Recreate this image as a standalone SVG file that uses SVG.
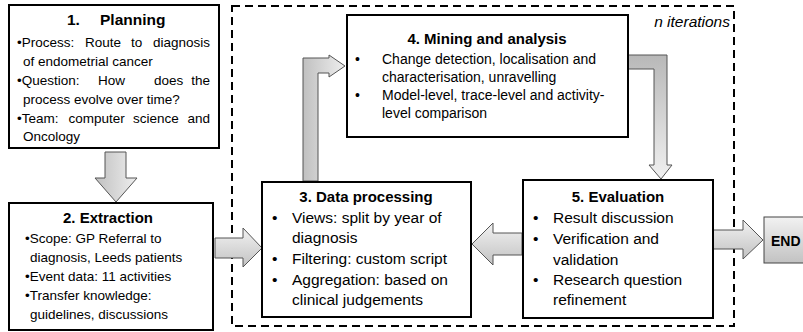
<svg xmlns="http://www.w3.org/2000/svg" width="803" height="332" viewBox="0 0 803 332">
<defs>
<linearGradient id="gv" x1="0" y1="0" x2="0" y2="1"><stop offset="0" stop-color="#f2f2f2"/><stop offset="1" stop-color="#c2c2c2"/></linearGradient>
<linearGradient id="gd" x1="0" y1="0" x2="0" y2="1"><stop offset="0" stop-color="#b8b8b8"/><stop offset="1" stop-color="#f0f0f0"/></linearGradient>
<linearGradient id="gh" x1="0" y1="0" x2="1" y2="0"><stop offset="0" stop-color="#c0c0c0"/><stop offset="1" stop-color="#eeeeee"/></linearGradient>
<style>
.box{fill:#fff;stroke:#000;stroke-width:2}
.arr{stroke:#555;stroke-width:1;stroke-linejoin:miter}
.t{font-family:"Liberation Sans",Arial,sans-serif;fill:#000}
.h{font-weight:bold;font-size:15px;text-anchor:middle}
.s{font-size:13.5px}
.m{font-size:15.5px}
.k{font-size:14px}
</style>
</defs>
<rect x="232" y="6" width="502" height="320" fill="none" stroke="#000" stroke-width="2" stroke-dasharray="8 5"/>
<text class="t" x="730" y="27" font-size="15.5" font-style="italic" text-anchor="end">n iterations</text>

<g id="connectors">
<polygon class="arr" fill="url(#gh)" points="105,152 126,152 126,178 137,178 116,202 95,178 105,178"/>
<polygon class="arr" fill="url(#gv)" points="215,238 243,238 243,228 262,248 243,267 243,258 215,258"/>
<polygon class="arr" fill="url(#gh)" points="303,181 303,58 329,58 329,55 345,66 329,77 329,73 318,73 318,181"/>
<polygon class="arr" fill="url(#gd)" points="628,55 667,55 667,165 672,165 661,179 649,165 654,165 654,69 628,69"/>
<polygon class="arr" fill="url(#gv)" points="522,233 493,233 493,223 472,244 493,265 493,255 522,255"/>
<polygon class="arr" fill="url(#gv)" points="713,230 743,230 743,220 763,240 743,259 743,249 713,249"/>
</g>

<g id="n1">
<rect class="box" x="9" y="5" width="210" height="143"/>
<text class="t" font-weight="bold" font-size="15.5" y="25"><tspan x="67">1.</tspan><tspan x="100">Planning</tspan></text>
<text class="t s" y="47"><tspan x="17">•Process:</tspan><tspan x="85">Route</tspan><tspan x="131">to</tspan><tspan x="210" text-anchor="end">diagnosis</tspan></text>
<text class="t s" x="23" y="66">of endometrial cancer</text>
<text class="t s" y="85"><tspan x="17">•Question:</tspan><tspan x="98">How</tspan><tspan x="154">does</tspan><tspan x="210" text-anchor="end">the</tspan></text>
<text class="t s" x="23" y="104">process evolve over time?</text>
<text class="t s" y="123"><tspan x="17">•Team:</tspan><tspan x="68.5">computer</tspan><tspan x="133">science</tspan><tspan x="210" text-anchor="end">and</tspan></text>
<text class="t s" x="23" y="141">Oncology</text>
</g>

<g id="n2">
<rect class="box" x="9" y="203" width="204" height="127"/>
<text class="t h" x="108" y="223" font-size="16">2. Extraction</text>
<text class="t s" x="25" y="243">•Scope: GP Referral to</text>
<text class="t s" x="30" y="262">diagnosis, Leeds patients</text>
<text class="t s" x="25" y="281">•Event data: 11 activities</text>
<text class="t s" x="25" y="300">•Transfer knowledge:</text>
<text class="t s" x="30" y="319">guidelines, discussions</text>
</g>

<g id="n3">
<rect class="box" x="262" y="182" width="209" height="135"/>
<text class="t h" x="366" y="202">3. Data processing</text>
<text class="t m" x="272" y="223">•</text><text class="t m" x="292" y="223">Views: split by year of</text>
<text class="t m" x="292" y="243">diagnosis</text>
<text class="t m" x="272" y="264">•</text><text class="t m" x="292" y="264">Filtering: custom script</text>
<text class="t m" x="272" y="285">•</text><text class="t m" x="292" y="285">Aggregation: based on</text>
<text class="t m" x="292" y="305">clinical judgements</text>
</g>

<g id="n4">
<rect class="box" x="347" y="15" width="281" height="122"/>
<text class="t h" x="487" y="44">4. Mining and analysis</text>
<text class="t k" x="355" y="64">•</text><text class="t k" x="382" y="64">Change detection, localisation and</text>
<text class="t k" x="382" y="82">characterisation, unravelling</text>
<text class="t k" x="355" y="100">•</text><text class="t k" x="382" y="100">Model-level, trace-level and activity-</text>
<text class="t k" x="382" y="118">level comparison</text>
</g>

<g id="n5">
<rect class="box" x="523" y="180" width="190" height="138"/>
<text class="t h" x="618" y="202">5. Evaluation</text>
<text class="t m" x="533" y="223">•</text><text class="t m" x="553" y="223">Result discussion</text>
<text class="t m" x="533" y="244">•</text><text class="t m" x="553" y="244">Verification and</text>
<text class="t m" x="553" y="265">validation</text>
<text class="t m" x="533" y="285">•</text><text class="t m" x="553" y="285">Research question</text>
<text class="t m" x="553" y="305">refinement</text>
</g>

<g id="end">
<rect x="764" y="217" width="45" height="46" fill="url(#gv)" stroke="#444" stroke-width="1"/>
<text class="t" x="771" y="246" font-weight="bold" font-size="14">END</text>
</g>
</svg>
